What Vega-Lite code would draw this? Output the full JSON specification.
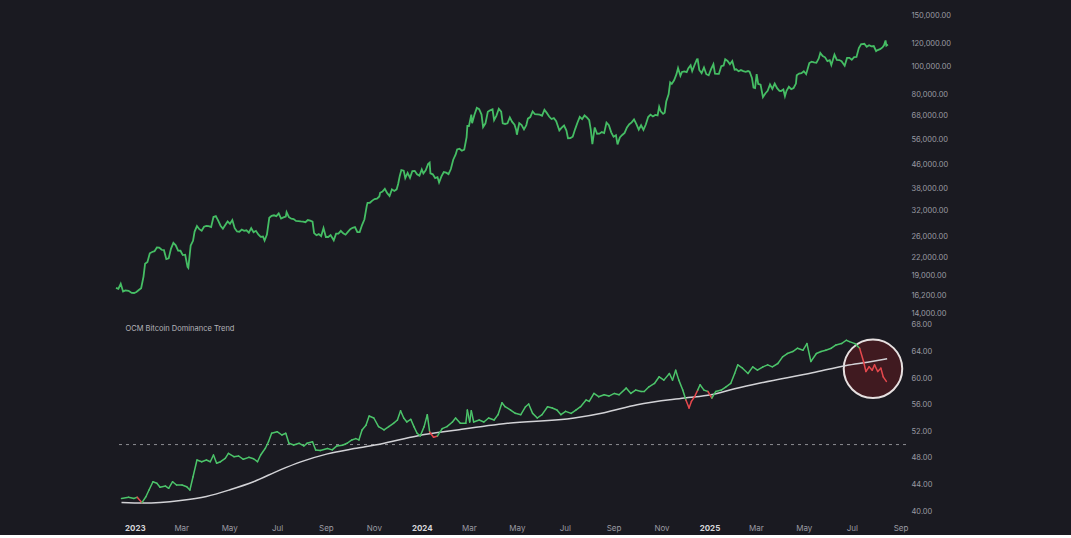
{
"$schema": "https://vega.github.io/schema/vega-lite/v6.json",
"background": "#1a1a21",
"padding": {"left": 112, "top": 8, "right": 120, "bottom": 3},
"bounds": "flush",
"spacing": 0,
"config": {
  "view": {"stroke": null},
  "font": "Inter",
  "axis": {"domain": false, "ticks": false, "tickSize": 0, "grid": false, "labelColor": "#9a9aa3", "labelFontSize": 7.5, "labelFont": "Inter"}
},
"datasets": {
"price": [
{"date":"2022-12-08","price":17230},{"date":"2022-12-11","price":17100},{"date":"2022-12-14","price":17800},{"date":"2022-12-17","price":16750},{"date":"2022-12-20","price":16900},{"date":"2022-12-24","price":16840},{"date":"2022-12-28","price":16550},{"date":"2022-12-31","price":16540},
{"date":"2023-01-03","price":16680},{"date":"2023-01-06","price":16950},{"date":"2023-01-09","price":17190},{"date":"2023-01-12","price":18850},{"date":"2023-01-14","price":20880},{"date":"2023-01-17","price":21180},{"date":"2023-01-20","price":22680},{"date":"2023-01-23","price":22930},{"date":"2023-01-26","price":23080},{"date":"2023-01-29","price":23750},
{"date":"2023-02-01","price":23720},{"date":"2023-02-04","price":23330},{"date":"2023-02-07","price":23260},{"date":"2023-02-10","price":21650},{"date":"2023-02-13","price":21790},{"date":"2023-02-16","price":23550},{"date":"2023-02-19","price":24640},{"date":"2023-02-22","price":24180},{"date":"2023-02-25","price":23170},{"date":"2023-02-28","price":23150},
{"date":"2023-03-03","price":22360},{"date":"2023-03-06","price":22430},{"date":"2023-03-09","price":20360},{"date":"2023-03-10","price":20190},{"date":"2023-03-13","price":24120},{"date":"2023-03-16","price":25050},{"date":"2023-03-18","price":26960},{"date":"2023-03-21","price":28180},{"date":"2023-03-24","price":27480},{"date":"2023-03-27","price":27140},{"date":"2023-03-30","price":28030},
{"date":"2023-04-02","price":28200},{"date":"2023-04-05","price":28170},{"date":"2023-04-08","price":27940},{"date":"2023-04-11","price":30270},{"date":"2023-04-14","price":30480},{"date":"2023-04-17","price":29430},{"date":"2023-04-20","price":28250},{"date":"2023-04-23","price":27590},{"date":"2023-04-26","price":28420},{"date":"2023-04-29","price":29240},
{"date":"2023-05-02","price":28680},{"date":"2023-05-05","price":29540},{"date":"2023-05-08","price":27700},{"date":"2023-05-11","price":26990},{"date":"2023-05-14","price":26930},{"date":"2023-05-17","price":27400},{"date":"2023-05-20","price":27120},{"date":"2023-05-23","price":27230},{"date":"2023-05-26","price":26720},{"date":"2023-05-29","price":27700},
{"date":"2023-06-01","price":26820},{"date":"2023-06-04","price":27120},{"date":"2023-06-07","price":26350},{"date":"2023-06-10","price":25850},{"date":"2023-06-13","price":25920},{"date":"2023-06-15","price":25120},{"date":"2023-06-18","price":26340},{"date":"2023-06-21","price":30080},{"date":"2023-06-24","price":30540},{"date":"2023-06-27","price":30690},{"date":"2023-06-30","price":30480},
{"date":"2023-07-03","price":31160},{"date":"2023-07-06","price":29910},{"date":"2023-07-09","price":30170},{"date":"2023-07-12","price":30390},{"date":"2023-07-13","price":31470},{"date":"2023-07-16","price":30250},{"date":"2023-07-19","price":29860},{"date":"2023-07-22","price":29800},{"date":"2023-07-25","price":29350},{"date":"2023-07-28","price":29320},{"date":"2023-07-31","price":29230},
{"date":"2023-08-03","price":29180},{"date":"2023-08-06","price":29050},{"date":"2023-08-09","price":29560},{"date":"2023-08-12","price":29410},{"date":"2023-08-15","price":29170},{"date":"2023-08-17","price":26630},{"date":"2023-08-20","price":26190},{"date":"2023-08-23","price":26430},{"date":"2023-08-26","price":26010},{"date":"2023-08-29","price":27730},
{"date":"2023-09-01","price":25830},{"date":"2023-09-04","price":25830},{"date":"2023-09-07","price":26230},{"date":"2023-09-11","price":25160},{"date":"2023-09-14","price":26530},{"date":"2023-09-17","price":26530},{"date":"2023-09-20","price":27130},{"date":"2023-09-23","price":26580},{"date":"2023-09-26","price":26300},{"date":"2023-09-29","price":26910},
{"date":"2023-10-02","price":27500},{"date":"2023-10-05","price":27790},{"date":"2023-10-08","price":27930},{"date":"2023-10-11","price":26870},{"date":"2023-10-14","price":26860},{"date":"2023-10-17","price":28400},{"date":"2023-10-20","price":29680},{"date":"2023-10-23","price":33090},{"date":"2023-10-24","price":33900},{"date":"2023-10-27","price":33910},{"date":"2023-10-30","price":34500},
{"date":"2023-11-02","price":34940},{"date":"2023-11-05","price":35050},{"date":"2023-11-08","price":35650},{"date":"2023-11-09","price":36700},{"date":"2023-11-12","price":37050},{"date":"2023-11-15","price":37880},{"date":"2023-11-18","price":36600},{"date":"2023-11-21","price":35800},{"date":"2023-11-24","price":37720},{"date":"2023-11-27","price":37250},{"date":"2023-11-30","price":37720},
{"date":"2023-12-02","price":39460},{"date":"2023-12-04","price":41980},{"date":"2023-12-06","price":43990},{"date":"2023-12-09","price":43780},{"date":"2023-12-11","price":41240},{"date":"2023-12-14","price":43020},{"date":"2023-12-17","price":41360},{"date":"2023-12-20","price":43650},{"date":"2023-12-23","price":43700},{"date":"2023-12-26","price":42520},{"date":"2023-12-29","price":42070},
{"date":"2024-01-01","price":44180},{"date":"2024-01-03","price":42840},{"date":"2024-01-06","price":43930},{"date":"2024-01-09","price":46100},{"date":"2024-01-11","price":46630},{"date":"2024-01-12","price":42850},{"date":"2024-01-15","price":42510},{"date":"2024-01-18","price":41280},{"date":"2024-01-21","price":41580},{"date":"2024-01-23","price":39850},{"date":"2024-01-26","price":41820},{"date":"2024-01-29","price":43300},
{"date":"2024-02-01","price":43080},{"date":"2024-02-04","price":42580},{"date":"2024-02-07","price":44340},{"date":"2024-02-10","price":47750},{"date":"2024-02-13","price":49700},{"date":"2024-02-15","price":51840},{"date":"2024-02-18","price":52120},{"date":"2024-02-21","price":51300},{"date":"2024-02-24","price":51730},{"date":"2024-02-27","price":57080},{"date":"2024-02-28","price":62500},
{"date":"2024-03-01","price":62440},{"date":"2024-03-04","price":68330},{"date":"2024-03-05","price":63800},{"date":"2024-03-08","price":68300},{"date":"2024-03-11","price":72120},{"date":"2024-03-14","price":71400},{"date":"2024-03-17","price":68390},{"date":"2024-03-19","price":61910},{"date":"2024-03-22","price":63780},{"date":"2024-03-25","price":69960},{"date":"2024-03-28","price":70740},{"date":"2024-03-31","price":71330},
{"date":"2024-04-02","price":65470},{"date":"2024-04-05","price":67830},{"date":"2024-04-08","price":71630},{"date":"2024-04-11","price":70000},{"date":"2024-04-13","price":63800},{"date":"2024-04-16","price":63460},{"date":"2024-04-19","price":63820},{"date":"2024-04-22","price":66840},{"date":"2024-04-25","price":64480},{"date":"2024-04-28","price":63110},{"date":"2024-04-30","price":60640},
{"date":"2024-05-01","price":58250},{"date":"2024-05-04","price":63880},{"date":"2024-05-07","price":62890},{"date":"2024-05-10","price":60790},{"date":"2024-05-13","price":62900},{"date":"2024-05-15","price":66200},{"date":"2024-05-18","price":67050},{"date":"2024-05-21","price":70140},{"date":"2024-05-24","price":68560},{"date":"2024-05-27","price":68510},{"date":"2024-05-30","price":68360},
{"date":"2024-06-02","price":67760},{"date":"2024-06-05","price":71050},{"date":"2024-06-08","price":69300},{"date":"2024-06-11","price":67320},{"date":"2024-06-14","price":66010},{"date":"2024-06-17","price":66500},{"date":"2024-06-20","price":64850},{"date":"2024-06-24","price":60280},{"date":"2024-06-27","price":61610},{"date":"2024-06-30","price":62680},
{"date":"2024-07-03","price":60200},{"date":"2024-07-05","price":56660},{"date":"2024-07-08","price":56700},{"date":"2024-07-11","price":57340},{"date":"2024-07-14","price":60800},{"date":"2024-07-17","price":64100},{"date":"2024-07-20","price":67150},{"date":"2024-07-23","price":65940},{"date":"2024-07-26","price":67910},{"date":"2024-07-29","price":66800},
{"date":"2024-08-01","price":65360},{"date":"2024-08-03","price":60700},{"date":"2024-08-05","price":54020},{"date":"2024-08-08","price":61700},{"date":"2024-08-11","price":58700},{"date":"2024-08-14","price":58740},{"date":"2024-08-17","price":59490},{"date":"2024-08-20","price":59020},{"date":"2024-08-23","price":64160},{"date":"2024-08-26","price":62880},{"date":"2024-08-29","price":59380},
{"date":"2024-09-01","price":57300},{"date":"2024-09-04","price":57990},{"date":"2024-09-06","price":53960},{"date":"2024-09-09","price":57020},{"date":"2024-09-12","price":58130},{"date":"2024-09-15","price":59130},{"date":"2024-09-18","price":61760},{"date":"2024-09-21","price":63350},{"date":"2024-09-24","price":64260},{"date":"2024-09-27","price":65790},{"date":"2024-09-30","price":63330},
{"date":"2024-10-03","price":60650},{"date":"2024-10-06","price":62820},{"date":"2024-10-09","price":60580},{"date":"2024-10-12","price":63190},{"date":"2024-10-15","price":67040},{"date":"2024-10-18","price":68370},{"date":"2024-10-21","price":67370},{"date":"2024-10-24","price":68170},{"date":"2024-10-27","price":67930},{"date":"2024-10-29","price":72740},{"date":"2024-10-31","price":70210},
{"date":"2024-11-03","price":68740},{"date":"2024-11-05","price":69370},{"date":"2024-11-07","price":75860},{"date":"2024-11-10","price":80370},{"date":"2024-11-12","price":88300},{"date":"2024-11-14","price":87250},{"date":"2024-11-17","price":89850},{"date":"2024-11-20","price":94300},{"date":"2024-11-22","price":98990},{"date":"2024-11-25","price":93050},{"date":"2024-11-27","price":95960},{"date":"2024-11-30","price":96450},
{"date":"2024-12-03","price":95860},{"date":"2024-12-05","price":98770},{"date":"2024-12-08","price":101170},{"date":"2024-12-10","price":96590},{"date":"2024-12-13","price":101430},{"date":"2024-12-16","price":106030},{"date":"2024-12-17","price":106140},{"date":"2024-12-19","price":97490},{"date":"2024-12-22","price":95100},{"date":"2024-12-25","price":99420},{"date":"2024-12-28","price":94280},{"date":"2024-12-31","price":93430},
{"date":"2025-01-03","price":98110},{"date":"2025-01-06","price":102080},{"date":"2025-01-08","price":94700},{"date":"2025-01-11","price":94570},{"date":"2025-01-13","price":94520},{"date":"2025-01-16","price":100500},{"date":"2025-01-19","price":101090},{"date":"2025-01-21","price":106150},{"date":"2025-01-24","price":104800},{"date":"2025-01-27","price":102090},{"date":"2025-01-30","price":104740},
{"date":"2025-02-02","price":97700},{"date":"2025-02-04","price":98000},{"date":"2025-02-07","price":96500},{"date":"2025-02-10","price":97400},{"date":"2025-02-13","price":96600},{"date":"2025-02-16","price":96100},{"date":"2025-02-19","price":96640},{"date":"2025-02-21","price":96130},{"date":"2025-02-24","price":91550},{"date":"2025-02-26","price":84700},{"date":"2025-02-28","price":84370},
{"date":"2025-03-02","price":94270},{"date":"2025-03-04","price":87220},{"date":"2025-03-07","price":86740},{"date":"2025-03-10","price":78530},{"date":"2025-03-13","price":80900},{"date":"2025-03-16","price":82600},{"date":"2025-03-19","price":86850},{"date":"2025-03-22","price":83830},{"date":"2025-03-25","price":87500},{"date":"2025-03-28","price":84350},{"date":"2025-03-31","price":82550},
{"date":"2025-04-02","price":82490},{"date":"2025-04-05","price":83500},{"date":"2025-04-07","price":79150},{"date":"2025-04-09","price":82580},{"date":"2025-04-12","price":85280},{"date":"2025-04-15","price":83680},{"date":"2025-04-18","price":84450},{"date":"2025-04-21","price":87500},{"date":"2025-04-22","price":93440},{"date":"2025-04-25","price":94720},{"date":"2025-04-28","price":95030},
{"date":"2025-05-01","price":96490},{"date":"2025-05-04","price":94310},{"date":"2025-05-08","price":103000},{"date":"2025-05-11","price":104100},{"date":"2025-05-14","price":103500},{"date":"2025-05-17","price":103200},{"date":"2025-05-20","price":106800},{"date":"2025-05-22","price":111700},{"date":"2025-05-25","price":109000},{"date":"2025-05-28","price":107800},{"date":"2025-05-31","price":104600},
{"date":"2025-06-03","price":105400},{"date":"2025-06-05","price":101500},{"date":"2025-06-09","price":110200},{"date":"2025-06-12","price":105700},{"date":"2025-06-15","price":105500},{"date":"2025-06-18","price":104600},{"date":"2025-06-22","price":100900},{"date":"2025-06-25","price":107300},{"date":"2025-06-28","price":107300},
{"date":"2025-07-01","price":105700},{"date":"2025-07-04","price":108000},{"date":"2025-07-07","price":108200},{"date":"2025-07-10","price":116000},{"date":"2025-07-13","price":119800},{"date":"2025-07-14","price":119800},{"date":"2025-07-17","price":120100},{"date":"2025-07-20","price":117300},{"date":"2025-07-23","price":118700},{"date":"2025-07-26","price":117600},{"date":"2025-07-29","price":117900},
{"date":"2025-08-01","price":113300},{"date":"2025-08-03","price":114200},{"date":"2025-08-06","price":115000},{"date":"2025-08-09","price":116600},{"date":"2025-08-11","price":118700},{"date":"2025-08-13","price":123300},{"date":"2025-08-14","price":118300},{"date":"2025-08-16","price":119400}
],
"dom": [
{"date":"2022-12-15","dom":41.9,"regime":"up"},{"date":"2022-12-24","dom":42.06,"regime":"up"},{"date":"2022-12-31","dom":41.9,"regime":"up"},{"date":"2023-01-04","dom":42.06,"regime":"down"},{"date":"2023-01-10","dom":41.25,"regime":"up"},{"date":"2023-01-15","dom":42.15,"regime":"up"},{"date":"2023-01-19","dom":43.16,"regime":"up"},{"date":"2023-01-24","dom":44.41,"regime":"up"},{"date":"2023-01-29","dom":44.17,"regime":"up"},{"date":"2023-02-02","dom":43.57,"regime":"up"},{"date":"2023-02-09","dom":43.76,"regime":"up"},{"date":"2023-02-13","dom":43.42,"regime":"up"},{"date":"2023-02-18","dom":44.41,"regime":"up"},{"date":"2023-02-23","dom":43.91,"regime":"up"},{"date":"2023-03-02","dom":43.91,"regime":"up"},{"date":"2023-03-08","dom":43.66,"regime":"up"},{"date":"2023-03-12","dom":43.16,"regime":"up"},{"date":"2023-03-16","dom":45.16,"regime":"up"},{"date":"2023-03-21","dom":47.68,"regime":"up"},{"date":"2023-03-27","dom":47.42,"regime":"up"},{"date":"2023-04-02","dom":47.68,"regime":"up"},{"date":"2023-04-07","dom":47.42,"regime":"up"},{"date":"2023-04-11","dom":48.43,"regime":"up"},{"date":"2023-04-15","dom":47.18,"regime":"up"},{"date":"2023-04-20","dom":47.42,"regime":"up"},{"date":"2023-04-26","dom":47.93,"regime":"up"},{"date":"2023-04-30","dom":48.69,"regime":"up"},{"date":"2023-05-07","dom":48.17,"regime":"up"},{"date":"2023-05-13","dom":48.28,"regime":"up"},{"date":"2023-05-19","dom":47.78,"regime":"up"},{"date":"2023-05-26","dom":48.08,"regime":"up"},{"date":"2023-06-01","dom":47.87,"regime":"up"},{"date":"2023-06-06","dom":47.42,"regime":"up"},{"date":"2023-06-10","dom":48.43,"regime":"up"},{"date":"2023-06-16","dom":49.44,"regime":"up"},{"date":"2023-06-20","dom":50.43,"regime":"up"},{"date":"2023-06-24","dom":51.7,"regime":"up"},{"date":"2023-07-01","dom":51.94,"regime":"up"},{"date":"2023-07-07","dom":51.44,"regime":"up"},{"date":"2023-07-12","dom":51.7,"regime":"up"},{"date":"2023-07-16","dom":50.19,"regime":"up"},{"date":"2023-07-22","dom":49.94,"regime":"up"},{"date":"2023-07-29","dom":50.19,"regime":"up"},{"date":"2023-08-04","dom":49.79,"regime":"up"},{"date":"2023-08-08","dom":50.19,"regime":"up"},{"date":"2023-08-15","dom":50.43,"regime":"up"},{"date":"2023-08-19","dom":49.18,"regime":"up"},{"date":"2023-08-25","dom":49.1,"regime":"up"},{"date":"2023-09-03","dom":49.4,"regime":"up"},{"date":"2023-09-09","dom":49.2,"regime":"up"},{"date":"2023-09-15","dom":49.8,"regime":"up"},{"date":"2023-09-22","dom":49.9,"regime":"up"},{"date":"2023-09-28","dom":50.2,"regime":"up"},{"date":"2023-10-04","dom":50.7,"regime":"up"},{"date":"2023-10-09","dom":50.9,"regime":"up"},{"date":"2023-10-13","dom":50.7,"regime":"up"},{"date":"2023-10-17","dom":52.2,"regime":"up"},{"date":"2023-10-22","dom":52.9,"regime":"up"},{"date":"2023-10-26","dom":54.3,"regime":"up"},{"date":"2023-11-01","dom":54.0,"regime":"up"},{"date":"2023-11-07","dom":52.7,"regime":"up"},{"date":"2023-11-14","dom":52.2,"regime":"up"},{"date":"2023-11-20","dom":52.7,"regime":"up"},{"date":"2023-11-26","dom":53.2,"regime":"up"},{"date":"2023-12-01","dom":53.7,"regime":"up"},{"date":"2023-12-05","dom":55.1,"regime":"up"},{"date":"2023-12-09","dom":54.0,"regime":"up"},{"date":"2023-12-13","dom":53.4,"regime":"up"},{"date":"2023-12-18","dom":53.8,"regime":"up"},{"date":"2023-12-22","dom":52.7,"regime":"up"},{"date":"2023-12-26","dom":51.7,"regime":"up"},{"date":"2023-12-30","dom":51.3,"regime":"up"},{"date":"2024-01-04","dom":52.7,"regime":"up"},{"date":"2024-01-08","dom":54.5,"regime":"up"},{"date":"2024-01-11","dom":51.9,"regime":"down"},{"date":"2024-01-16","dom":51.1,"regime":"down"},{"date":"2024-01-21","dom":51.3,"regime":"up"},{"date":"2024-01-27","dom":52.4,"regime":"up"},{"date":"2024-02-02","dom":52.7,"regime":"up"},{"date":"2024-02-09","dom":53.4,"regime":"up"},{"date":"2024-02-13","dom":54.0,"regime":"up"},{"date":"2024-02-19","dom":53.2,"regime":"up"},{"date":"2024-02-26","dom":53.2,"regime":"up"},{"date":"2024-02-28","dom":55.2,"regime":"up"},{"date":"2024-03-02","dom":53.4,"regime":"up"},{"date":"2024-03-04","dom":55.1,"regime":"up"},{"date":"2024-03-07","dom":53.4,"regime":"up"},{"date":"2024-03-14","dom":53.7,"regime":"up"},{"date":"2024-03-20","dom":53.4,"regime":"up"},{"date":"2024-03-26","dom":54.0,"regime":"up"},{"date":"2024-04-02","dom":53.7,"regime":"up"},{"date":"2024-04-07","dom":54.5,"regime":"up"},{"date":"2024-04-12","dom":56.3,"regime":"up"},{"date":"2024-04-16","dom":55.7,"regime":"up"},{"date":"2024-04-23","dom":55.2,"regime":"up"},{"date":"2024-04-29","dom":54.7,"regime":"up"},{"date":"2024-05-06","dom":54.5,"regime":"up"},{"date":"2024-05-12","dom":55.7,"regime":"up"},{"date":"2024-05-16","dom":56.1,"regime":"up"},{"date":"2024-05-21","dom":54.7,"regime":"up"},{"date":"2024-05-27","dom":54.0,"regime":"up"},{"date":"2024-06-02","dom":54.5,"regime":"up"},{"date":"2024-06-09","dom":55.7,"regime":"up"},{"date":"2024-06-15","dom":55.5,"regime":"up"},{"date":"2024-06-21","dom":55.2,"regime":"up"},{"date":"2024-06-26","dom":54.5,"regime":"up"},{"date":"2024-07-02","dom":55.0,"regime":"up"},{"date":"2024-07-09","dom":54.7,"regime":"up"},{"date":"2024-07-15","dom":55.2,"regime":"up"},{"date":"2024-07-21","dom":55.7,"regime":"up"},{"date":"2024-07-28","dom":56.7,"regime":"up"},{"date":"2024-08-01","dom":56.5,"regime":"up"},{"date":"2024-08-07","dom":57.7,"regime":"up"},{"date":"2024-08-13","dom":57.2,"regime":"up"},{"date":"2024-08-20","dom":57.5,"regime":"up"},{"date":"2024-08-26","dom":57.3,"regime":"up"},{"date":"2024-09-02","dom":57.7,"regime":"up"},{"date":"2024-09-08","dom":57.5,"regime":"up"},{"date":"2024-09-17","dom":58.5,"regime":"up"},{"date":"2024-09-23","dom":57.7,"regime":"up"},{"date":"2024-09-29","dom":58.2,"regime":"up"},{"date":"2024-10-06","dom":58.0,"regime":"up"},{"date":"2024-10-10","dom":58.0,"regime":"up"},{"date":"2024-10-16","dom":58.7,"regime":"up"},{"date":"2024-10-23","dom":59.2,"regime":"up"},{"date":"2024-10-29","dom":60.2,"regime":"up"},{"date":"2024-11-04","dom":59.7,"regime":"up"},{"date":"2024-11-11","dom":60.7,"regime":"up"},{"date":"2024-11-15","dom":59.7,"regime":"up"},{"date":"2024-11-19","dom":61.2,"regime":"up"},{"date":"2024-11-23","dom":59.7,"regime":"up"},{"date":"2024-11-28","dom":58.2,"regime":"up"},{"date":"2024-12-02","dom":56.7,"regime":"down"},{"date":"2024-12-06","dom":55.5,"regime":"down"},{"date":"2024-12-09","dom":56.5,"regime":"down"},{"date":"2024-12-13","dom":57.2,"regime":"down"},{"date":"2024-12-17","dom":58.2,"regime":"up"},{"date":"2024-12-20","dom":59.0,"regime":"up"},{"date":"2024-12-25","dom":58.2,"regime":"up"},{"date":"2024-12-30","dom":58.0,"regime":"down"},{"date":"2025-01-04","dom":57.0,"regime":"up"},{"date":"2025-01-09","dom":58.0,"regime":"up"},{"date":"2025-01-16","dom":58.2,"regime":"up"},{"date":"2025-01-22","dom":58.7,"regime":"up"},{"date":"2025-01-28","dom":59.2,"regime":"up"},{"date":"2025-02-02","dom":60.7,"regime":"up"},{"date":"2025-02-06","dom":62.0,"regime":"up"},{"date":"2025-02-12","dom":61.5,"regime":"up"},{"date":"2025-02-19","dom":60.7,"regime":"up"},{"date":"2025-02-25","dom":61.7,"regime":"up"},{"date":"2025-03-03","dom":61.2,"regime":"up"},{"date":"2025-03-10","dom":61.7,"regime":"up"},{"date":"2025-03-16","dom":62.0,"regime":"up"},{"date":"2025-03-22","dom":61.7,"regime":"up"},{"date":"2025-03-29","dom":62.2,"regime":"up"},{"date":"2025-04-04","dom":63.2,"regime":"up"},{"date":"2025-04-10","dom":63.7,"regime":"up"},{"date":"2025-04-17","dom":64.0,"regime":"up"},{"date":"2025-04-23","dom":64.5,"regime":"up"},{"date":"2025-04-30","dom":64.2,"regime":"up"},{"date":"2025-05-05","dom":65.2,"regime":"up"},{"date":"2025-05-10","dom":62.5,"regime":"up"},{"date":"2025-05-17","dom":63.7,"regime":"up"},{"date":"2025-05-23","dom":64.0,"regime":"up"},{"date":"2025-05-29","dom":64.2,"regime":"up"},{"date":"2025-06-05","dom":64.5,"regime":"up"},{"date":"2025-06-11","dom":65.0,"regime":"up"},{"date":"2025-06-18","dom":65.2,"regime":"up"},{"date":"2025-06-24","dom":65.7,"regime":"up"},{"date":"2025-06-28","dom":65.5,"regime":"up"},{"date":"2025-07-05","dom":65.2,"regime":"up"},{"date":"2025-07-11","dom":64.5,"regime":"down"},{"date":"2025-07-16","dom":62.5,"regime":"down"},{"date":"2025-07-19","dom":61.0,"regime":"down"},{"date":"2025-07-23","dom":61.7,"regime":"down"},{"date":"2025-07-27","dom":61.2,"regime":"down"},{"date":"2025-07-30","dom":62.0,"regime":"down"},{"date":"2025-08-03","dom":61.0,"regime":"down"},{"date":"2025-08-07","dom":61.5,"regime":"down"},{"date":"2025-08-10","dom":60.2,"regime":"down"},{"date":"2025-08-14","dom":59.5,"regime":"down"}
],
"trend": [
{"date":"2022-12-15","value":41.3},{"date":"2023-01-12","value":41.2},{"date":"2023-02-28","value":41.6},{"date":"2023-04-02","value":42.2},{"date":"2023-05-02","value":43.2},{"date":"2023-06-01","value":44.4},{"date":"2023-07-05","value":46.2},{"date":"2023-07-31","value":47.4},{"date":"2023-09-03","value":48.6},{"date":"2023-10-07","value":49.4},{"date":"2023-11-10","value":50.1},{"date":"2023-12-26","value":51.3},{"date":"2024-02-15","value":52.2},{"date":"2024-04-19","value":53.2},{"date":"2024-07-13","value":54.0},{"date":"2024-08-20","value":54.8},{"date":"2024-10-01","value":56.0},{"date":"2024-11-30","value":57.0},{"date":"2025-01-03","value":57.5},{"date":"2025-02-02","value":58.4},{"date":"2025-03-08","value":59.3},{"date":"2025-05-12","value":60.8},{"date":"2025-06-24","value":61.9},{"date":"2025-07-21","value":62.4},{"date":"2025-08-15","value":62.9}
],
"circle": [{"date":"2025-07-28","value":61.4}]
},
"vconcat": [
{
  "width": 790, "height": 310,
  "data": {"name": "price", "format": {"parse": {"date": "date:'%Y-%m-%d'"}}},
  "mark": {"type": "line", "color": "#45bd64", "strokeWidth": 1.8},
  "encoding": {
    "x": {"field": "date", "type": "temporal", "title": null, "axis": null,
          "scale": {"domain": [{"year":2022,"month":12,"date":8},{"year":2025,"month":9,"date":8}]}},
    "y": {"field": "price", "type": "quantitative", "title": null,
          "scale": {"type": "log", "domain": [13560, 159600], "nice": false},
          "axis": {"orient": "right", "labelPadding": 5, "format": ",.2f",
                   "values": [14000,16200,19000,22000,26000,32000,38000,46000,56000,68000,80000,100000,120000,150000]}}
  }
},
{
  "width": 790, "height": 198,
  "encoding": {
    "x": {"type": "temporal", "title": null,
          "scale": {"domain": [{"year":2022,"month":12,"date":8},{"year":2025,"month":9,"date":8}]},
          "axis": {"orient": "bottom", "labelPadding": 8, "labelFontSize": 8,
                   "tickCount": {"interval": "month", "step": 2},
                   "labelExpr": "month(datum.value) == 0 ? timeFormat(datum.value, '%Y') : timeFormat(datum.value, '%b')",
                   "labelFontWeight": {"condition": {"test": "month(datum.value) == 0", "value": "bold"}, "value": "normal"},
                   "labelColor": {"condition": {"test": "month(datum.value) == 0", "value": "#d6d6da"}, "value": "#9a9aa3"}}},
    "y": {"type": "quantitative", "title": null,
          "scale": {"domain": [39.25, 69.05], "nice": false, "zero": false},
          "axis": {"orient": "right", "labelPadding": 5, "format": ".2f", "values": [40,44,48,52,56,60,64,68]}}
  },
  "layer": [
    {
      "data": {"values": [{}]},
      "mark": {"type": "rule", "color": "#8c8c92", "strokeDash": [3, 4], "strokeWidth": 1},
      "encoding": {"y": {"datum": 50, "type": "quantitative"}}
    },
    {
      "data": {"name": "circle", "format": {"parse": {"date": "date:'%Y-%m-%d'"}}},
      "mark": {"type": "point", "shape": "circle", "filled": true, "size": 3421, "fill": "#5a1a1f", "fillOpacity": 0.6, "stroke": "#e6e0e0", "strokeWidth": 2, "strokeOpacity": 1},
      "encoding": {"x": {"field": "date"}, "y": {"field": "value"}}
    },
    {
      "data": {"name": "trend", "format": {"parse": {"date": "date:'%Y-%m-%d'"}}},
      "mark": {"type": "line", "color": "#d2d2d6", "strokeWidth": 1.5, "interpolate": "monotone"},
      "encoding": {"x": {"field": "date"}, "y": {"field": "value"}}
    },
    {
      "data": {"name": "dom", "format": {"parse": {"date": "date:'%Y-%m-%d'"}}},
      "transform": [
        {"window": [{"op": "lead", "field": "date", "as": "date2"}, {"op": "lead", "field": "dom", "as": "dom2"}], "sort": [{"field": "date"}]},
        {"filter": "datum.date2 != null"}
      ],
      "mark": {"type": "rule", "strokeWidth": 1.5, "strokeCap": "round"},
      "encoding": {
        "x": {"field": "date"}, "x2": {"field": "date2"},
        "y": {"field": "dom"}, "y2": {"field": "dom2"},
        "color": {"field": "regime", "type": "nominal", "legend": null,
                  "scale": {"domain": ["up", "down"], "range": ["#4cc46a", "#e5484d"]}}
      }
    },
    {
      "data": {"values": [{}]},
      "mark": {"type": "text", "align": "left", "baseline": "middle", "fontSize": 7.5, "color": "#b4b4ba", "font": "Inter"},
      "encoding": {
        "x": {"datum": {"year": 2022, "month": 12, "date": 20}},
        "y": {"datum": 67.4},
        "text": {"value": "OCM Bitcoin Dominance Trend"}
      }
    }
  ]
}
]
}
